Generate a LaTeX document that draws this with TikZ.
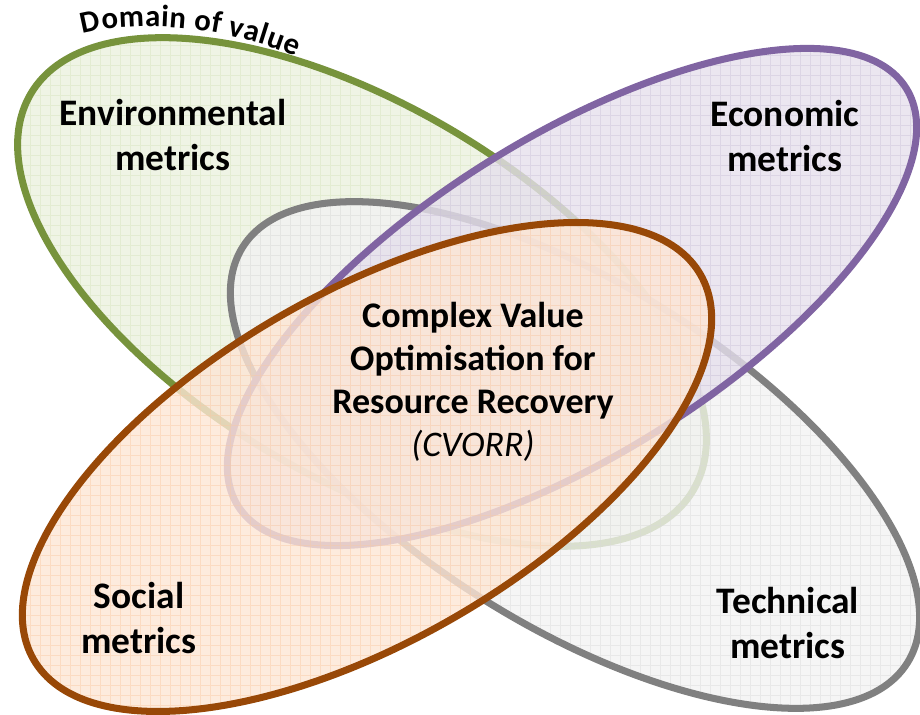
\documentclass[tikz,border=0pt]{standalone}
\usepackage{fontspec}
\setmainfont{Carlito}
\usetikzlibrary{decorations.text}

\definecolor{envline}{HTML}{77933C}
\definecolor{envfill}{HTML}{EBF1DE}
\definecolor{envgrid}{HTML}{D7E4BD}
\definecolor{techline}{HTML}{808080}
\definecolor{techfill}{HTML}{F2F2F2}
\definecolor{techgrid}{HTML}{D9D9D9}
\definecolor{ecoline}{HTML}{8064A2}
\definecolor{ecofill}{HTML}{E6E0EC}
\definecolor{ecogrid}{HTML}{CCC1DA}
\definecolor{socline}{HTML}{984807}
\definecolor{socfill}{HTML}{FDE6D5}
\definecolor{socgrid}{HTML}{FAC9A3}

\tikzstyle{domainfill}=[fill opacity=0.8]
\tikzstyle{domaingrid}=[line width=0.5pt, draw opacity=0.45, step=10]
\tikzstyle{domainline}=[line width=4pt]
\tikzstyle{metrics}=[font=\bfseries\fontsize{21.3}{25.5}\selectfont, align=center, inner sep=0pt]
\tikzstyle{cvorr}=[font=\bfseries\fontsize{20.5}{24.5}\selectfont, align=center, inner sep=0pt]

\begin{document}
\begin{tikzpicture}[x=0.02cm, y=0.02cm]
\useasboundingbox (0,0) rectangle (920,715);

\foreach \cx/\cy/\ang/\rx/\ry/\ln/\fl/\gr in {
  362/423/-31/386/185/envline/envfill/envgrid,
  575/260/-32/392/171/techline/techfill/techgrid,
  572/418/32/394/159/ecoline/ecofill/ecogrid,
  367/248/30/385/174/socline/socfill/socgrid} {
  \fill[domainfill, \fl, rotate around={\ang:(\cx,\cy)}] (\cx,\cy) ellipse [x radius=\rx, y radius=\ry];
  \begin{scope}
    \clip[rotate around={\ang:(\cx,\cy)}] (\cx,\cy) ellipse [x radius=\rx, y radius=\ry];
    \draw[domaingrid, \gr] (0,0) grid (920,715);
  \end{scope}
  \draw[domainline, \ln, rotate around={\ang:(\cx,\cy)}] (\cx,\cy) ellipse [x radius=\rx, y radius=\ry];
}

\path[decorate, decoration={text along path, text align={fit to path},
  text={|\bfseries\fontsize{17.5}{17.5}\selectfont|Domain of value}}]
  (83,681) .. controls (130,694) and (220,692) .. (296,658);

\node[metrics] (envmetrics) at (173,580) {Environmental\\metrics};
\node[metrics] (ecometrics) at (785,579) {Economic\\metrics};
\node[metrics] (socmetrics) at (139,97) {Social\\metrics};
\node[metrics] (techmetrics) at (788,92) {Technical\\metrics};
\node[cvorr] (cvorr) at (473,333) {Complex Value\\Optimisation for\\Resource Recovery\\{\mdseries\itshape (CVORR)}};

\end{tikzpicture}
\end{document}
